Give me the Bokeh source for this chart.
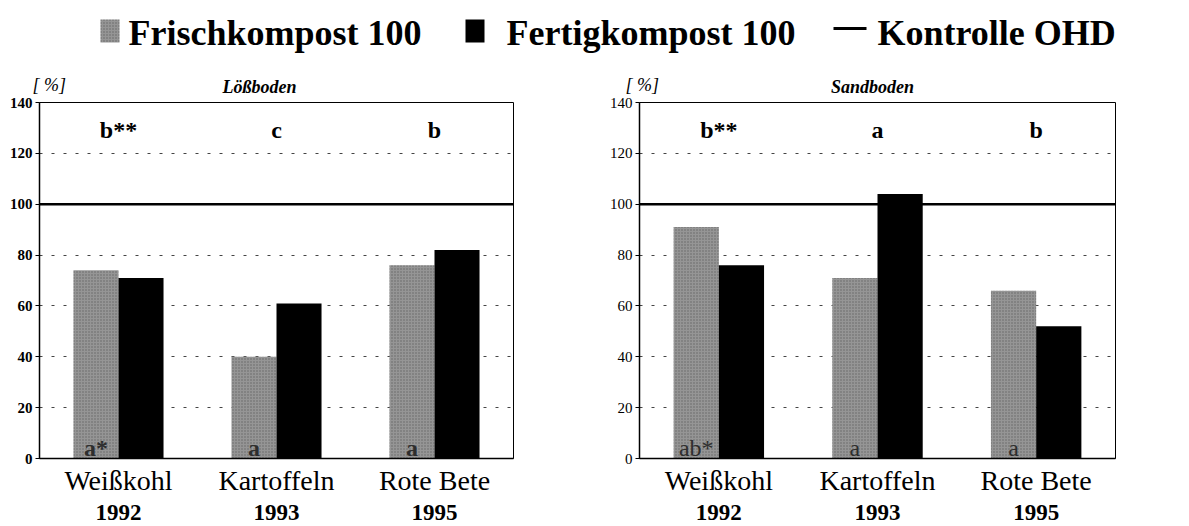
from bokeh.plotting import figure
from bokeh.models import (ColumnDataSource, FactorRange, Range1d, Span,
                          CategoricalAxis, FixedTicker)
from bokeh.transform import dodge
from bokeh.layouts import column, row
from bokeh.core.properties import value
from bokeh.embed import file_html
from bokeh.resources import INLINE

# ---------------- data ----------------
crops = ["Weißkohl", "Kartoffeln", "Rote Bete"]
years = ["1992", "1993", "1995"]
loess_frisch = [74, 40, 76]
loess_fertig = [71, 61, 82]
sand_frisch = [91, 71, 66]
sand_fertig = [76, 104, 52]
kontrolle = 100
loess_sig_top = ["b**", "c", "b"]
loess_sig_bottom = ["a*", "a", "a"]
sand_sig_top = ["b**", "a", "b"]
sand_sig_bottom = ["ab*", "a", "a"]
legend_labels = ["Frischkompost 100", "Fertigkompost 100", "Kontrolle OHD"]
panel_titles = ["Lößboden", "Sandboden"]
unit_label = "[ %]"
y_ticks = [0, 20, 40, 60, 80, 100, 120, 140]
grid_ticks = [20, 40, 60, 80, 120]

FONT = "Liberation Serif"
GREY = "#959595"
BW = 0.285


def make_panel(frisch, fertig, sig_top, sig_bottom, tick_style,
               border_left, frame_width, border_right):
    src = ColumnDataSource(dict(crop=crops, frisch=frisch, fertig=fertig,
                                top=sig_top, bottom=sig_bottom,
                                ytop=[129] * len(crops), ybot=[4] * len(crops)))
    p = figure(x_range=FactorRange(factors=crops, range_padding=0),
               y_range=Range1d(0, 140),
               frame_width=frame_width, frame_height=356,
               min_border_left=border_left, min_border_right=border_right,
               min_border_top=6, min_border_bottom=66,
               output_backend="svg", toolbar_location=None)
    p.extra_x_ranges = {"years": FactorRange(factors=years, range_padding=0)}
    p.outline_line_color = "black"
    p.outline_line_width = 1
    p.background_fill_color = "white"
    p.border_fill_color = "white"

    p.vbar(x=dodge("crop", -BW / 2, range=p.x_range), top="frisch", width=BW,
           source=src, fill_color=GREY, line_color=None,
           hatch_pattern="dot", hatch_color="#3c3c3c", hatch_scale=3,
           hatch_alpha=0.55)
    p.vbar(x=dodge("crop", BW / 2, range=p.x_range), top="fertig", width=BW,
           source=src, fill_color="black", line_color=None)

    p.add_layout(Span(location=kontrolle, dimension="width",
                      line_color="black", line_width=2.5))

    p.text(x="crop", y="ytop", text="top", source=src,
           text_font=value(FONT), text_font_style="bold",
           text_font_size="24px", text_align="center",
           text_baseline="middle", text_color="black")
    p.text(x=dodge("crop", -BW / 2, range=p.x_range), y="ybot", text="bottom",
           source=src, text_font=value(FONT), text_font_style=tick_style,
           text_font_size="24px", text_align="center",
           text_baseline="alphabetic", text_color="#2e2e2e")

    # grid
    p.xgrid.visible = False
    p.ygrid.ticker = FixedTicker(ticks=grid_ticks)
    p.ygrid.grid_line_color = "#444444"
    p.ygrid.grid_line_dash = "3 9"
    p.ygrid.grid_line_width = 1

    # y axis
    ya = p.yaxis[0]
    ya.ticker = FixedTicker(ticks=y_ticks)
    ya.axis_line_color = "black"
    ya.axis_line_width = 1.5
    ya.major_tick_in = 0
    ya.major_tick_out = 4
    ya.major_tick_line_color = "black"
    ya.minor_tick_line_color = None
    ya.major_label_standoff = 3
    ya.major_label_text_font = FONT
    ya.major_label_text_font_style = tick_style
    ya.major_label_text_font_size = "15px"
    ya.major_label_text_color = "black"

    # x axes: crop names and years
    xa = p.xaxis[0]
    xa.axis_line_color = "black"
    xa.axis_line_width = 1.5
    xa.major_tick_line_color = None
    xa.minor_tick_line_color = None
    xa.major_label_standoff = 0
    xa.major_label_text_font = FONT
    xa.major_label_text_font_size = "28px"
    xa.major_label_text_color = "black"

    xa2 = CategoricalAxis(x_range_name="years")
    xa2.axis_line_color = None
    xa2.major_tick_line_color = None
    xa2.minor_tick_line_color = None
    xa2.major_label_standoff = 0
    xa2.major_label_text_font = FONT
    xa2.major_label_text_font_style = "bold"
    xa2.major_label_text_font_size = "23px"
    xa2.major_label_text_color = "black"
    p.add_layout(xa2, "below")
    return p


left = make_panel(loess_frisch, loess_fertig, loess_sig_top,
                  loess_sig_bottom, "bold", 39, 474, 47)
right = make_panel(sand_frisch, sand_fertig, sand_sig_top,
                   sand_sig_bottom, "normal", 79, 476, 70)

# ---------------- header (legend, unit labels, panel titles) ----------------
HW, HH = 1185, 96
h = figure(width=HW, height=HH, x_range=Range1d(0, HW),
           y_range=Range1d(HH, 0), x_axis_type=None, y_axis_type=None,
           output_backend="svg", toolbar_location=None,
           min_border=0, outline_line_color=None)
h.xgrid.visible = False
h.ygrid.visible = False
h.rect(x=[109.5], y=[30.5], width=19, height=23, fill_color=GREY, line_color=None,
       hatch_pattern="dot", hatch_color="#3c3c3c", hatch_scale=3, hatch_alpha=0.55)
h.rect(x=[474.5], y=[30.5], width=19, height=23, fill_color="black", line_color=None)
h.line(x=[833, 866], y=[28, 28], line_color="black", line_width=3)
h.text(x=[128, 506, 877], y=[32, 32, 32], text=legend_labels,
       text_font=value(FONT), text_font_style="bold", text_font_size="36px",
       text_align="left", text_baseline="alphabetic", text_color="black")
h.text(x=[32, 625], y=[94, 94], text=[unit_label, unit_label],
       text_font=value(FONT), text_font_style="italic", text_font_size="18px",
       text_align="left", text_baseline="bottom", text_color="black")
h.text(x=[259, 872], y=[96, 96], text=panel_titles,
       text_font=value(FONT), text_font_style="bold italic",
       text_font_size="18px", text_align="center",
       text_baseline="bottom", text_color="black")

layout = column(h, row(left, right, spacing=0), spacing=0)
open("out.html", "w").write(file_html(layout, INLINE))
